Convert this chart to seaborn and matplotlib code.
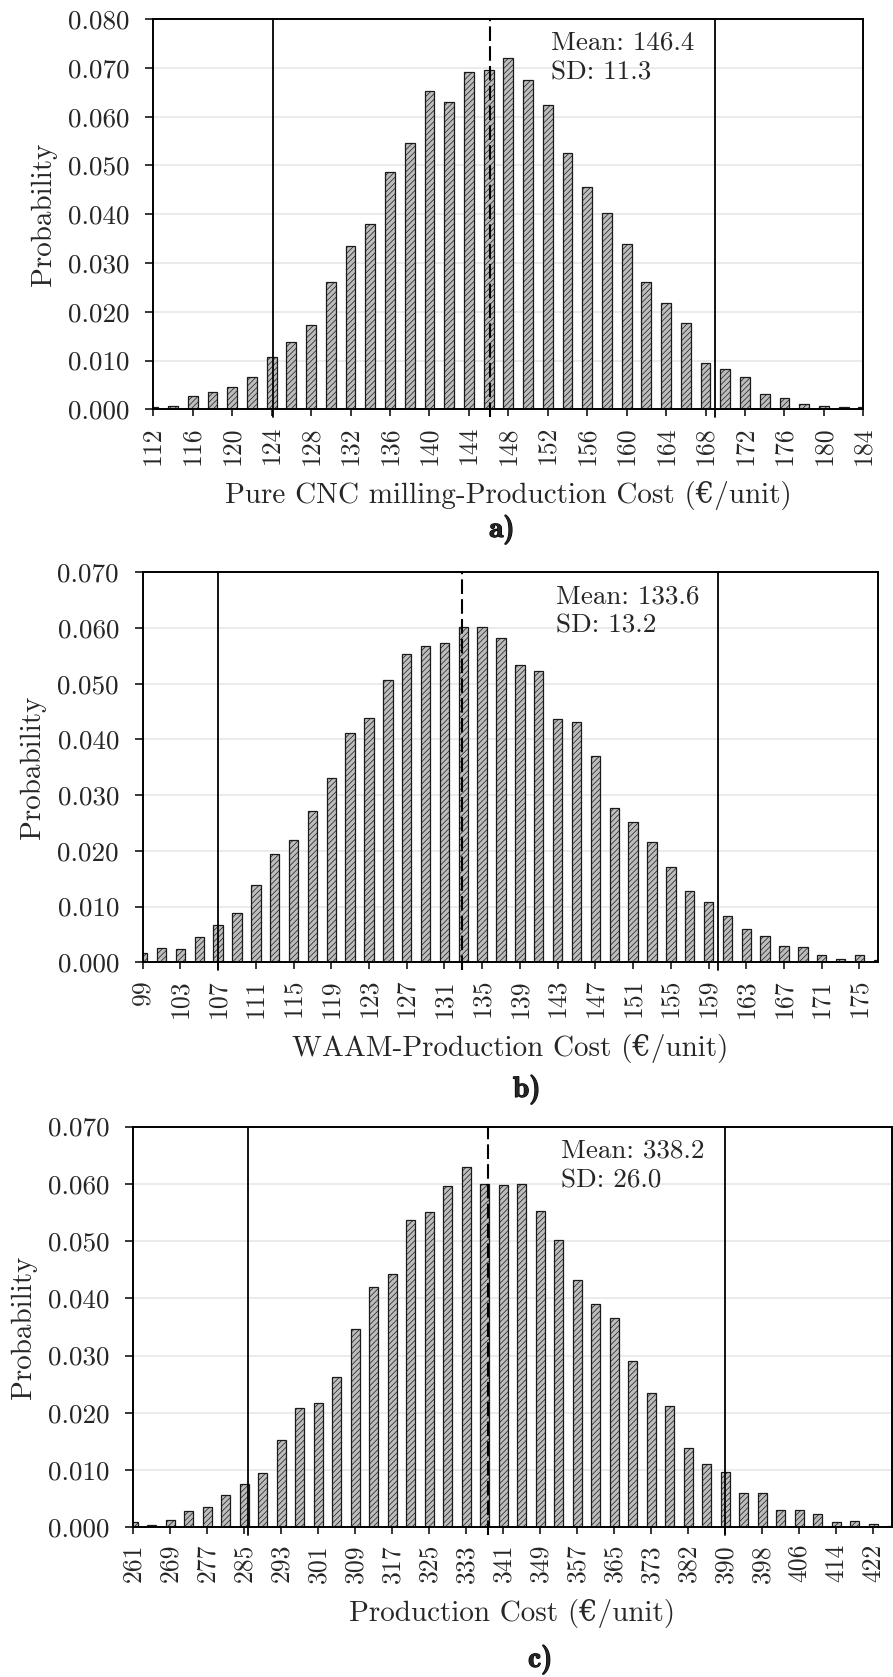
import numpy as np
import pandas as pd
import matplotlib
matplotlib.use("Agg")
import matplotlib.pyplot as plt
import matplotlib.patheffects as pe
import seaborn as sns

# a) Pure CNC milling
a_bins = [112, 114, 116, 118, 120, 122, 124, 126, 128, 130, 132, 134, 136, 138, 140, 142, 144, 146, 148,
          150, 152, 154, 156, 158, 160, 162, 164, 166, 168, 170, 172, 174, 176, 178, 180, 182, 184]
a_prob = [0.0005, 0.0006, 0.0028, 0.0036, 0.0046, 0.0066, 0.0107, 0.0138, 0.0173, 0.0262, 0.0335, 0.0379,
          0.0486, 0.0546, 0.0652, 0.0630, 0.0692, 0.0696, 0.0721, 0.0675, 0.0624, 0.0525, 0.0456, 0.0403,
          0.0338, 0.0262, 0.0219, 0.0177, 0.0096, 0.0082, 0.0066, 0.0032, 0.0024, 0.0011, 0.0007, 0.0005, 0.0004]
a_ticks = [112, 116, 120, 124, 128, 132, 136, 140, 144, 148, 152, 156, 160, 164, 168, 172, 176, 180, 184]
a_limits = [124.1, 169.0]
a_meanline = 146.1

# b) WAAM
b_bins = [99, 101, 103, 105, 107, 109, 111, 113, 115, 117, 119, 121, 123, 125, 127, 129, 131, 133, 135, 137,
          139, 141, 143, 145, 147, 149, 151, 153, 155, 157, 159, 161, 163, 165, 167, 169, 171, 173, 175, 177]
b_prob = [0.0016, 0.0026, 0.0023, 0.0045, 0.0067, 0.0089, 0.0139, 0.0194, 0.0220, 0.0272, 0.0330, 0.0411,
          0.0439, 0.0507, 0.0553, 0.0567, 0.0573, 0.0602, 0.0602, 0.0582, 0.0533, 0.0522, 0.0436, 0.0431,
          0.0370, 0.0277, 0.0251, 0.0215, 0.0171, 0.0127, 0.0109, 0.0083, 0.0060, 0.0048, 0.0029, 0.0027,
          0.0013, 0.0006, 0.0013, 0.0004]
b_ticks = [99, 103, 107, 111, 115, 119, 123, 127, 131, 135, 139, 143, 147, 151, 155, 159, 163, 167, 171, 175]
b_limits = [107.0, 160.0]
b_meanline = 132.9

# c) total production cost
c_bins = [261, 265, 269, 273, 277, 281, 285, 289, 293, 297, 301, 305, 309, 313, 317, 321, 325, 329, 333, 337,
          341, 345, 349, 353, 357, 361, 365, 369, 373, 378, 382, 386, 390, 394, 398, 402, 406, 410, 414, 418,
          422, 426]
c_prob = [0.0010, 0.0004, 0.0012, 0.0029, 0.0036, 0.0057, 0.0075, 0.0094, 0.0152, 0.0208, 0.0217, 0.0263,
          0.0347, 0.0420, 0.0443, 0.0536, 0.0551, 0.0597, 0.0629, 0.0600, 0.0598, 0.0600, 0.0553, 0.0502,
          0.0432, 0.0390, 0.0366, 0.0291, 0.0234, 0.0212, 0.0138, 0.0110, 0.0097, 0.0060, 0.0059, 0.0031,
          0.0030, 0.0023, 0.0009, 0.0011, 0.0006, 0.0003]
c_ticks = [261, 269, 277, 285, 293, 301, 309, 317, 325, 333, 341, 349, 357, 365, 373, 382, 390, 398, 406, 414, 422]
c_limits = [285.7, 389.9]
c_meanline = 337.6

sns.set_style("ticks")
plt.rcParams['font.family'] = ['cmr10', 'DejaVu Serif']
plt.rcParams['axes.unicode_minus'] = False
plt.rcParams['axes.formatter.use_mathtext'] = True
plt.rcParams['hatch.linewidth'] = 0.5

panels = [
    dict(bins=a_bins, prob=a_prob, ticks=a_ticks, limits=a_limits, mean=a_meanline, ymax=0.08,
         xlabel="Pure CNC milling-Production Cost (€/unit)", text="Mean: 146.4\nSD: 11.3",
         pos=[0.1717, 0.7559, 0.7951, 0.2327], tx=0.560, tag="a)", tagpos=(0.562, 0.6798)),
    dict(bins=b_bins, prob=b_prob, ticks=b_ticks, limits=b_limits, mean=b_meanline, ymax=0.07,
         xlabel="WAAM-Production Cost (€/unit)", text="Mean: 133.6\nSD: 13.2",
         pos=[0.1598, 0.4262, 0.8237, 0.2326], tx=0.562, tag="b)", tagpos=(0.590, 0.3459)),
    dict(bins=c_bins, prob=c_prob, ticks=c_ticks, limits=c_limits, mean=c_meanline, ymax=0.07,
         xlabel="Production Cost (€/unit)", text="Mean: 338.2\nSD: 26.0",
         pos=[0.1493, 0.0893, 0.8493, 0.2389], tx=0.5636, tag="c)", tagpos=(0.605, 0.0060)),
]

fig = plt.figure(figsize=(8.93, 16.77), dpi=100)

for p in panels:
    ax = fig.add_axes(p["pos"])
    n = len(p["bins"])
    df = pd.DataFrame({"bin": [str(b) for b in p["bins"]], "prob": p["prob"]})
    sns.barplot(data=df, x="bin", y="prob", order=df["bin"], color="#bdbdbd", saturation=1,
                width=0.5, edgecolor="#1a1a1a", linewidth=0.9, hatch="//////", ax=ax)
    idx = np.arange(n)
    for v in p["limits"]:
        ax.axvline(np.interp(v, p["bins"], idx), ymin=-0.02, ymax=1, color="black", lw=1.3,
                   clip_on=False, zorder=4)
    ax.axvline(np.interp(p["mean"], p["bins"], idx), ymin=-0.02, ymax=1, color="black", lw=1.5,
               ls=(0, (7, 2.5)), clip_on=False, zorder=4)

    ax.set_xlim(0, n - 1)
    ax.set_ylim(0, p["ymax"])
    ax.set_yticks(np.arange(0, p["ymax"] + 0.0001, 0.01))
    ax.set_yticklabels([f"{t:.3f}" for t in np.arange(0, p["ymax"] + 0.0001, 0.01)])
    ax.set_xticks(idx[::2])
    ax.set_xticklabels([str(t) for t in p["ticks"]], rotation=90)
    ax.tick_params(axis="y", labelsize=19.5, length=6, width=1.3, pad=11, direction="out")
    ax.tick_params(axis="x", labelsize=18.5, length=5, width=1.3, pad=7, direction="out")
    ax.yaxis.grid(True, color="#ebebeb", lw=1.4)
    ax.set_axisbelow(True)
    for s in ax.spines.values():
        s.set_visible(True)
        s.set_linewidth(1.4)
        s.set_color("black")
    ax.set_xlabel(p["xlabel"], fontsize=21, labelpad=12)
    ax.set_ylabel("Probability", fontsize=21, labelpad=8)
    ax.text(p["tx"], 0.969, p["text"], transform=ax.transAxes, ha="left", va="top",
            fontsize=19.5, linespacing=1.3)
    fig.text(p["tagpos"][0], p["tagpos"][1], p["tag"], ha="center", va="baseline",
             fontsize=21, family=["cmb10", "DejaVu Serif"],
             path_effects=[pe.withStroke(linewidth=0.9, foreground="black")])

plt.savefig("out.png", dpi=100)
plt.close()
